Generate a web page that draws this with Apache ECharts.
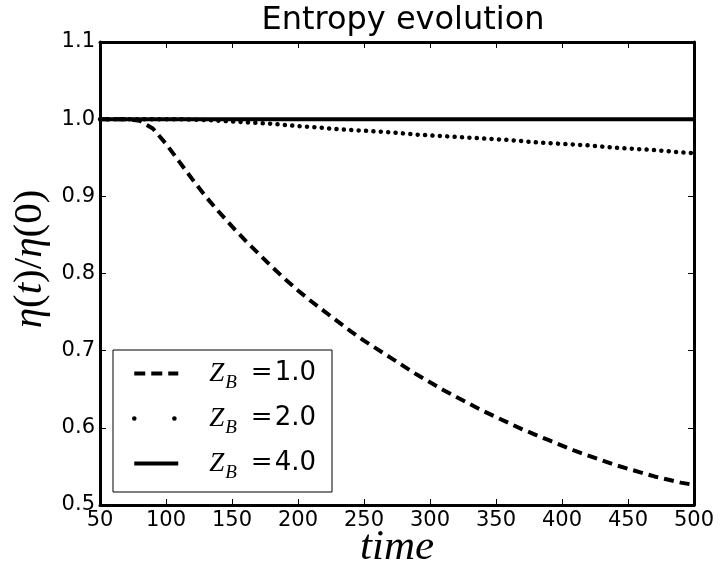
<!DOCTYPE html>
<html>
<head>
<meta charset="utf-8">
<script src="https://cdn.jsdelivr.net/npm/echarts@6/dist/echarts.min.js"></script>
<style>
html,body{margin:0;padding:0;background:#fff;}
#chart{width:721px;height:567px;}
</style>
</head>
<body>
<div id="chart"></div>
<script>
const times = [50,60,70,80,90,100,110,120,130,140,150,160,170,180,190,200,210,220,230,240,250,260,270,280,290,300,310,320,330,340,350,360,370,380,390,400,410,420,430,440,450,460,470,480,490,500];
const zb1 = [1.000,1.000,1.000,0.998,0.988,0.968,0.945,0.922,0.900,0.880,0.861,0.843,0.826,0.809,0.793,0.778,0.764,0.751,0.738,0.725,0.713,0.702,0.691,0.680,0.669,0.659,0.649,0.640,0.631,0.622,0.614,0.606,0.598,0.591,0.584,0.577,0.570,0.564,0.558,0.552,0.547,0.542,0.537,0.533,0.529,0.526];
const zb2 = [1.000,1.000,1.000,1.000,1.000,1.000,1.000,0.9995,0.999,0.998,0.997,0.996,0.995,0.994,0.9925,0.991,0.990,0.9885,0.987,0.986,0.985,0.984,0.983,0.9815,0.980,0.979,0.978,0.977,0.976,0.975,0.974,0.973,0.9715,0.970,0.969,0.968,0.967,0.966,0.9645,0.963,0.962,0.961,0.960,0.9585,0.957,0.956];
const zb4 = [1,1,1,1,1,1,1,1,1,1,1,1,1,1,1,1,1,1,1,1,1,1,1,1,1,1,1,1,1,1,1,1,1,1,1,1,1,1,1,1,1,1,1,1,1,1];
const seriesNames = ['1.0','2.0','4.0'];
const xTicks = {min:50, max:500, interval:50};
const yTicks = {min:0.5, max:1.1, interval:0.1};

const pair = (xs, ys) => xs.map((x,i)=>[x, ys[i]]);
const chart = echarts.init(document.getElementById('chart'), null, {renderer:'canvas'});
const sans = 'DejaVu Sans';
const serif = 'Liberation Serif';
const frameAxis = (extra) => Object.assign({
  axisLine:{show:true, onZero:false, lineStyle:{color:'#000', width:3}},
  axisTick:{show:true, inside:true, length:6, lineStyle:{color:'#000', width:1}},
  splitLine:{show:false}
}, extra);

const legendStyles = [
  {color:'#000', width:4, type:[11,6], cap:'butt'},
  {color:'#000', width:4.5, type:[0.1,40], cap:'round'},
  {color:'#000', width:4, type:'solid', cap:'butt'}
];

chart.setOption({
  animation:false,
  backgroundColor:'#fff',
  title:{
    text:'Entropy evolution', left:398, top:0, textAlign:'center',
    textStyle:{fontFamily:sans, fontSize:32, fontWeight:'normal', color:'#000'}
  },
  grid:{left:100, right:27, top:42, bottom:62, containLabel:false, outerBoundsMode:'none'},
  legend:{
    orient:'vertical', left:113, top:350,
    padding:[10,16,10,19], itemGap:13, itemWidth:44, itemHeight:24,
    borderColor:'#000', borderWidth:1, backgroundColor:'#fff',
    itemStyle:{color:'rgba(0,0,0,0)', borderWidth:0, opacity:0},
    data: seriesNames.map((n,i)=>({name:n, lineStyle:legendStyles[i]})),
    formatter: n => '{z|Z}{b|B}{e|=}{n|' + n + '}',
    textStyle:{
      padding:[0,0,0,26], color:'#000',
      rich:{
        z:{fontFamily:serif, fontStyle:'italic', fontSize:27, color:'#000'},
        b:{fontFamily:serif, fontStyle:'italic', fontSize:19, color:'#000', verticalAlign:'top', padding:[18,0,0,1]},
        e:{fontFamily:'DejaVu Serif', fontSize:26, color:'#000', padding:[0,2,0,14]},
        n:{fontFamily:sans, fontSize:26, color:'#000'}
      }
    }
  },
  xAxis:[
    frameAxis({type:'value', position:'bottom', min:xTicks.min, max:xTicks.max, interval:xTicks.interval,
      axisLabel:{fontFamily:sans, fontSize:21, color:'#000', margin:5},
      name:'time', nameLocation:'middle', nameGap:21, nameMoveOverlap:false,
      nameTextStyle:{fontFamily:serif, fontStyle:'italic', fontSize:43, color:'#000'}}),
    frameAxis({type:'value', position:'top', min:xTicks.min, max:xTicks.max, interval:xTicks.interval,
      axisLabel:{show:false}})
  ],
  yAxis:[
    frameAxis({type:'value', position:'left', min:yTicks.min, max:yTicks.max, interval:yTicks.interval,
      axisLabel:{fontFamily:sans, fontSize:21, color:'#000', margin:5, formatter:v=>v.toFixed(1)}}),
    frameAxis({type:'value', position:'right', min:yTicks.min, max:yTicks.max, interval:yTicks.interval,
      axisLabel:{show:false}})
  ],
  graphic:[{
    type:'text', x:30, y:259, rotation:Math.PI/2,
    style:{
      text:'{i|η}{u|(}{i|t}{u|)/}{i|η}{u|(0)}',
      textAlign:'center', textVerticalAlign:'middle',
      rich:{
        i:{fontFamily:serif, fontStyle:'italic', fontSize:41, fill:'#000'},
        u:{fontFamily:serif, fontSize:41, fill:'#000'}
      }
    }
  }],
  series:[
    {name:seriesNames[0], type:'line', symbol:'none', data:pair(times, zb1),
      lineStyle:{color:'#000', width:4, type:[10,6]}, itemStyle:{color:'#000'}},
    {name:seriesNames[1], type:'line', symbol:'none', data:pair(times, zb2),
      lineStyle:{color:'#000', width:4.5, type:[0.1,7.3], cap:'round'}, itemStyle:{color:'#000'}},
    {name:seriesNames[2], type:'line', symbol:'none', data:pair(times, zb4),
      lineStyle:{color:'#000', width:4}, itemStyle:{color:'#000'}}
  ]
});
</script>
</body>
</html>
